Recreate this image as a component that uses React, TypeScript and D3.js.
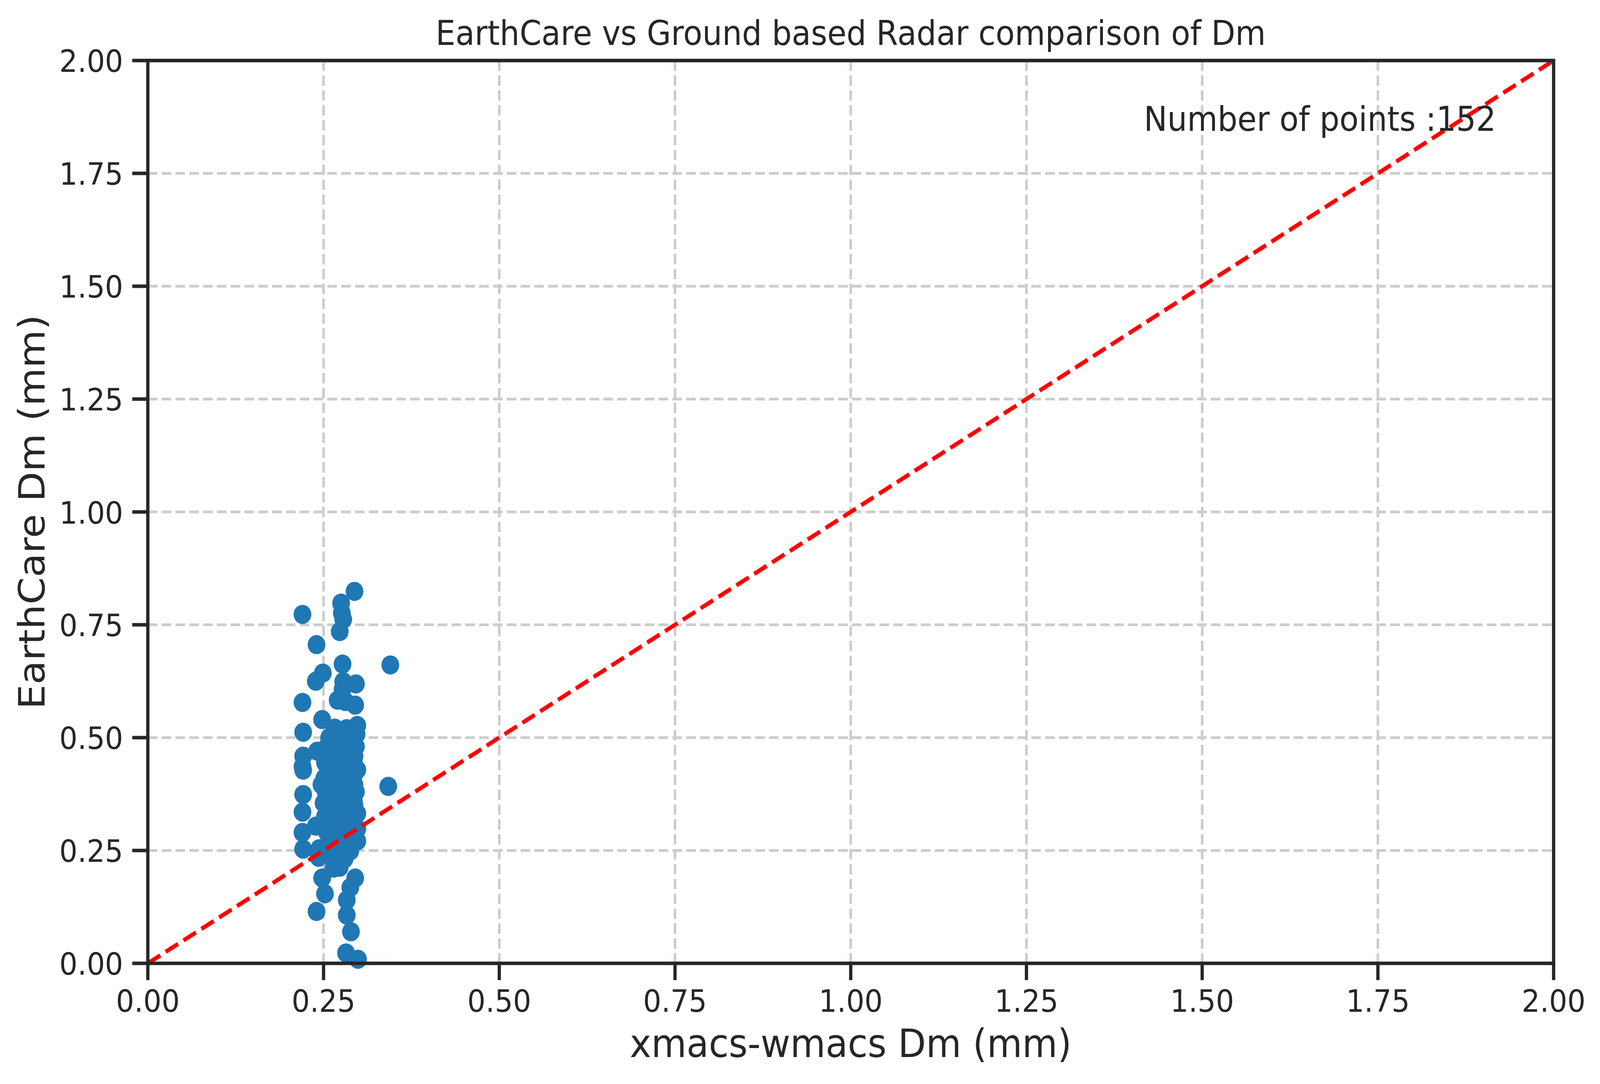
import React, { useEffect } from "react";
import * as d3 from "d3";

const W = 4416;
const H = 2776;

const title = "EarthCare vs Ground based Radar comparison of Dm";
const xLabel = "xmacs-wmacs Dm (mm)";
const yLabel = "EarthCare Dm (mm)";
const annotation = "Number of points :152";
const annotationPos = [1.417, 1.844];

const xTicks = [0, 0.25, 0.5, 0.75, 1.0, 1.25, 1.5, 1.75, 2.0];
const yTicks = [0, 0.25, 0.5, 0.75, 1.0, 1.25, 1.5, 1.75, 2.0];
const domain = [0, 2];

// xmacs-wmacs Dm (mm) values
const xmacsDm = [
  0.294, 0.275, 0.276, 0.278, 0.220, 0.273, 0.240, 0.277, 0.345, 0.249,
  0.239, 0.278, 0.296, 0.277, 0.220, 0.270, 0.281, 0.295, 0.248, 0.266,
  0.298, 0.221, 0.267, 0.297, 0.262, 0.296, 0.221, 0.241, 0.294, 0.220,
  0.221, 0.221, 0.220, 0.220, 0.221, 0.342, 0.243, 0.248, 0.252, 0.240,
  0.295, 0.288, 0.283, 0.283, 0.289, 0.282, 0.299, 0.264, 0.273, 0.288,
  0.298, 0.298, 0.298, 0.296, 0.298, 0.239, 0.244, 0.247,
  0.258, 0.272, 0.285,
  0.276, 0.290,
  0.255, 0.268, 0.281,
  0.262, 0.275, 0.289,
  0.257, 0.270, 0.284,
  0.264, 0.278, 0.292,
  0.254, 0.269, 0.283,
  0.261, 0.275, 0.288,
  0.256, 0.270, 0.284, 0.294,
  0.263, 0.277, 0.290,
  0.255, 0.268, 0.282,
  0.260, 0.274, 0.287,
  0.253, 0.266, 0.280, 0.291,
  0.259, 0.272, 0.285,
  0.255, 0.268, 0.281, 0.293,
  0.262, 0.276, 0.289,
  0.256, 0.270, 0.283,
  0.260, 0.274, 0.287,
  0.254, 0.267, 0.280, 0.292,
  0.261, 0.275, 0.288,
  0.257, 0.270, 0.283,
  0.263, 0.277, 0.290,
  0.258, 0.271, 0.285,
  0.265, 0.279,
  0.260, 0.273, 0.287,
  0.268, 0.281,
  0.262, 0.276,
  0.252, 0.251, 0.250, 0.252, 0.255, 0.293, 0.294, 0.294, 0.292, 0.266,
  0.280, 0.271, 0.283,
];

// EarthCare Dm (mm) values
const earthcareDm = [
  0.824, 0.798, 0.776, 0.762, 0.773, 0.735, 0.706, 0.663, 0.661, 0.643,
  0.625, 0.624, 0.619, 0.607, 0.578, 0.583, 0.580, 0.572, 0.540, 0.521,
  0.527, 0.512, 0.506, 0.508, 0.488, 0.480, 0.459, 0.470, 0.459, 0.436,
  0.428, 0.374, 0.335, 0.290, 0.253, 0.392, 0.235, 0.189, 0.154, 0.115,
  0.189, 0.168, 0.140, 0.107, 0.070, 0.023, 0.009, 0.211, 0.213, 0.249,
  0.271, 0.298, 0.332, 0.380, 0.429, 0.304, 0.254, 0.396,
  0.50, 0.50, 0.50,
  0.49, 0.49,
  0.48, 0.48, 0.48,
  0.47, 0.47, 0.47,
  0.46, 0.46, 0.46,
  0.45, 0.45, 0.45,
  0.44, 0.44, 0.44,
  0.43, 0.43, 0.43,
  0.42, 0.42, 0.42, 0.42,
  0.41, 0.41, 0.41,
  0.40, 0.40, 0.40,
  0.39, 0.39, 0.39,
  0.38, 0.38, 0.38, 0.38,
  0.37, 0.37, 0.37,
  0.36, 0.36, 0.36, 0.36,
  0.35, 0.35, 0.35,
  0.34, 0.34, 0.34,
  0.33, 0.33, 0.33,
  0.32, 0.32, 0.32, 0.32,
  0.31, 0.31, 0.31,
  0.30, 0.30, 0.30,
  0.29, 0.29, 0.29,
  0.28, 0.28, 0.28,
  0.27, 0.27,
  0.26, 0.26, 0.26,
  0.25, 0.25,
  0.24, 0.24,
  0.445, 0.41, 0.355, 0.325, 0.29, 0.445, 0.395, 0.35, 0.31, 0.225,
  0.232, 0.515, 0.52,
];

const identityLine = [0, 2];

const FONT = "'DejaVu Sans', 'Liberation Sans', sans-serif";
const TEXT = "#262626";

export default function App() {
  useEffect(() => {
    document.body.style.margin = "0";
    document.body.style.overflow = "hidden";
  }, []);

  const left = 408;
  const right = 4288;
  const top = 155;
  const bottom = 2467;

  const x = d3.scaleLinear().domain(domain).range([left, right]);
  const y = d3.scaleLinear().domain(domain).range([bottom, top]);

  const tickLen = 43;
  const tickW = 9;
  const tickFont = 79.2;

  const pts = xmacsDm.map((v, i) => [v, earthcareDm[i]]);
  const linePath = d3.line<number>()
    .x((d) => x(d))
    .y((d) => y(d))(identityLine) as string;

  return (
    <svg
      viewBox={`0 0 ${W} ${H}`}
      preserveAspectRatio="none"
      style={{
        position: "fixed",
        left: 0,
        top: 0,
        width: "100vw",
        height: "100vh",
        background: "#fff",
        display: "block",
      }}
      fontFamily={FONT}
    >
      <rect x={0} y={0} width={W} height={H} fill="#fff" />
      {/* grid */}
      <g stroke="#cccccc" strokeWidth={7} strokeDasharray="26.6 11.5" fill="none">
        {xTicks.map((t) => (
          <line key={"gx" + t} x1={x(t)} x2={x(t)} y1={top} y2={bottom} />
        ))}
        {yTicks.map((t) => (
          <line key={"gy" + t} x1={left} x2={right} y1={y(t)} y2={y(t)} />
        ))}
      </g>
      {/* points */}
      <g fill="#1f77b4">
        {pts.map((p, i) => (
          <circle key={i} cx={x(p[0])} cy={y(p[1])} r={24.5} />
        ))}
      </g>
      {/* identity line */}
      <path d={linePath} stroke="#ff0000" strokeWidth={10.8} strokeDasharray="40 17.3" fill="none" />
      {/* spines */}
      <rect x={left} y={top} width={right - left} height={bottom - top} fill="none" stroke="#262626" strokeWidth={9} />
      {/* ticks */}
      <g stroke="#262626" strokeWidth={tickW}>
        {xTicks.map((t) => (
          <line key={"tx" + t} x1={x(t)} x2={x(t)} y1={bottom} y2={bottom + tickLen} />
        ))}
        {yTicks.map((t) => (
          <line key={"ty" + t} x1={left - tickLen} x2={left} y1={y(t)} y2={y(t)} />
        ))}
      </g>
      {/* tick labels */}
      <g fill={TEXT} fontSize={tickFont}>
        {xTicks.map((t) => (
          <text key={"lx" + t} x={x(t)} y={2591} textAnchor="middle">
            {d3.format(".2f")(t)}
          </text>
        ))}
        {yTicks.map((t) => (
          <text key={"ly" + t} x={340} y={y(t) + 29.5} textAnchor="end">
            {d3.format(".2f")(t)}
          </text>
        ))}
      </g>
      {/* title */}
      <text x={(left + right) / 2} y={115} textAnchor="middle" fontSize={86.4} fill={TEXT}>
        {title}
      </text>
      {/* axis labels */}
      <text x={(left + right) / 2} y={2707} textAnchor="middle" fontSize={100} fill={TEXT}>
        {xLabel}
      </text>
      <text
        transform={`translate(123, ${(top + bottom) / 2}) rotate(-90)`}
        textAnchor="middle"
        fontSize={100}
        fill={TEXT}
      >
        {yLabel}
      </text>
      {/* annotation */}
      <text x={x(annotationPos[0])} y={y(annotationPos[1])} fontSize={86.4} fill={TEXT}>
        {annotation}
      </text>
    </svg>
  );
}
